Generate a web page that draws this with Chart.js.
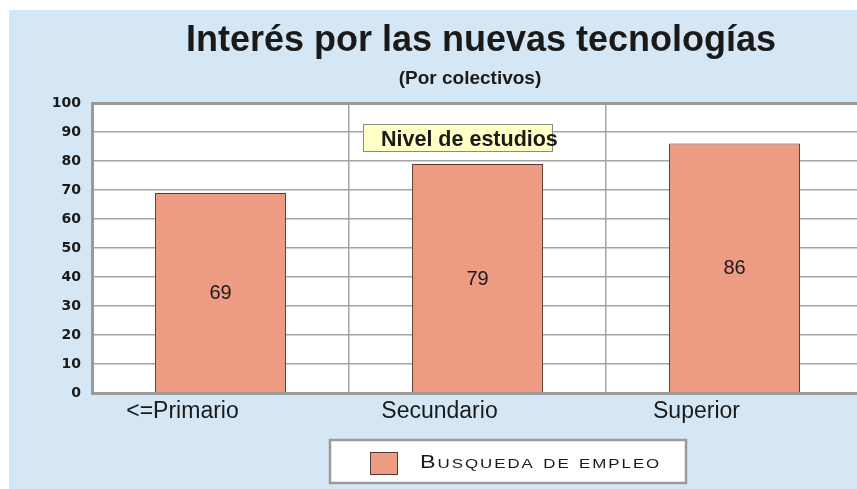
<!DOCTYPE html>
<html>
<head>
<meta charset="utf-8">
<script src="https://cdn.jsdelivr.net/npm/chart.js@4/dist/chart.umd.min.js"></script>
<style>
  html, body { margin: 0; padding: 0; background: #fff; overflow: hidden; }
  #wrap { width: 880px; height: 489px; position: relative; }
</style>
</head>
<body>
<div id="wrap"><canvas id="chart" width="880" height="489"></canvas></div>
<script>
// datos del gráfico
const categorias = ['<=Primario', 'Secundario', 'Superior'];
const busquedaEmpleo = [69, 79, 86];
const ticksY = [0, 10, 20, 30, 40, 50, 60, 70, 80, 90, 100];
const titulo = 'Interés por las nuevas tecnologías';
const subtitulo = '(Por colectivos)';
const rotuloEje = 'Nivel de estudios';
const nombreSerie = 'Busqueda de empleo';

const FONT = "'Liberation Sans', Arial, sans-serif";
const colorBarra = '#EE9B84';
const colorBorde = '#5A3A30';
const colorRejilla = '#A4A4A4';

// fondo, títulos, rótulo y leyenda
const decoracion = {
  id: 'decoracion',
  beforeDraw(chart) {
    const c = chart.ctx;
    c.save();
    c.fillStyle = '#ffffff';
    c.fillRect(0, 0, chart.width, chart.height);
    c.fillStyle = '#D5E7F4';
    c.fillRect(9, 10, chart.width, chart.height);
    const a = chart.chartArea;
    c.fillStyle = '#ffffff';
    c.fillRect(a.left, a.top, a.right - a.left, a.bottom - a.top);
    c.restore();
  },
  afterDraw(chart) {
    const c = chart.ctx;
    c.save();
    c.fillStyle = '#1a1a1a';
    c.textAlign = 'center';
    c.textBaseline = 'alphabetic';
    c.font = 'bold 36px ' + FONT;
    c.fillText(titulo, 481, 51);
    c.font = 'bold 19px ' + FONT;
    c.fillText(subtitulo, 470, 84);

    // rótulo "Nivel de estudios"
    c.fillStyle = '#FFFFC6';
    c.strokeStyle = '#8a8a8a';
    c.lineWidth = 1;
    c.fillRect(363.5, 124.5, 189, 27);
    c.strokeRect(363.5, 124.5, 189, 27);
    c.fillStyle = '#1a1a1a';
    c.textAlign = 'left';
    c.font = 'bold 21.5px ' + FONT;
    c.fillText(rotuloEje, 381, 146);

    // leyenda
    c.fillStyle = '#ffffff';
    c.strokeStyle = '#9a9a9a';
    c.lineWidth = 2.5;
    c.fillRect(330, 440, 356, 43);
    c.strokeRect(330, 440, 356, 43);
    c.fillStyle = colorBarra;
    c.fillRect(370.5, 452.5, 27, 22);
    c.strokeStyle = colorBorde;
    c.lineWidth = 1;
    c.strokeRect(370.5, 452.5, 27, 22);
    c.fillStyle = '#1a1a1a';
    c.font = 'small-caps 18px ' + FONT;
    if ('letterSpacing' in c) c.letterSpacing = '1.5px';
    c.translate(420, 468);
    c.scale(1.3, 1);
    c.fillText(nombreSerie, 0, 0);
    c.restore();
  },
  afterDatasetsDraw(chart) {
    const c = chart.ctx;
    const meta = chart.getDatasetMeta(0);
    c.save();
    c.fillStyle = '#1a1a1a';
    c.font = '20px ' + FONT;
    c.textAlign = 'center';
    c.textBaseline = 'middle';
    meta.data.forEach((bar, i) => {
      c.fillText(String(busquedaEmpleo[i]), bar.x, (bar.y + bar.base) / 2 + 1);
    });
    c.restore();
  }
};

new Chart(document.getElementById('chart'), {
  type: 'bar',
  data: {
    labels: categorias,
    datasets: [{
      label: nombreSerie,
      data: busquedaEmpleo,
      backgroundColor: colorBarra,
      borderColor: colorBorde,
      borderWidth: 1,
      categoryPercentage: 1,
      barPercentage: 0.51
    }]
  },
  options: {
    responsive: false,
    animation: false,
    layout: { padding: { top: 103, right: 17, left: 0, bottom: 0 } },
    plugins: { legend: { display: false }, title: { display: false }, tooltip: { enabled: false } },
    scales: {
      x: {
        grid: { color: colorRejilla, lineWidth: 1.5, offset: true, drawTicks: false },
        border: { color: '#9a9a9a', width: 3 },
        ticks: { color: '#1a1a1a', font: { family: FONT, size: 23 }, padding: 5, labelOffset: -38 },
        afterFit(s) { s.height = 96; }
      },
      y: {
        min: 0, max: 100,
        afterBuildTicks(s) { s.ticks = ticksY.map(v => ({ value: v })); },
        grid: {
          color: ctx => ctx.tick && ctx.tick.value === 100 ? '#9a9a9a' : colorRejilla,
          lineWidth: ctx => ctx.tick && ctx.tick.value === 100 ? 3 : 1.5,
          drawTicks: false
        },
        border: { color: '#9a9a9a', width: 3 },
        ticks: { color: '#1a1a1a', font: { family: "'DejaVu Sans', sans-serif", size: 14, weight: 'bold' }, padding: 11 },
        afterFit(s) { s.width = 92; }
      }
    }
  },
  plugins: [decoracion]
});
</script>
</body>
</html>
